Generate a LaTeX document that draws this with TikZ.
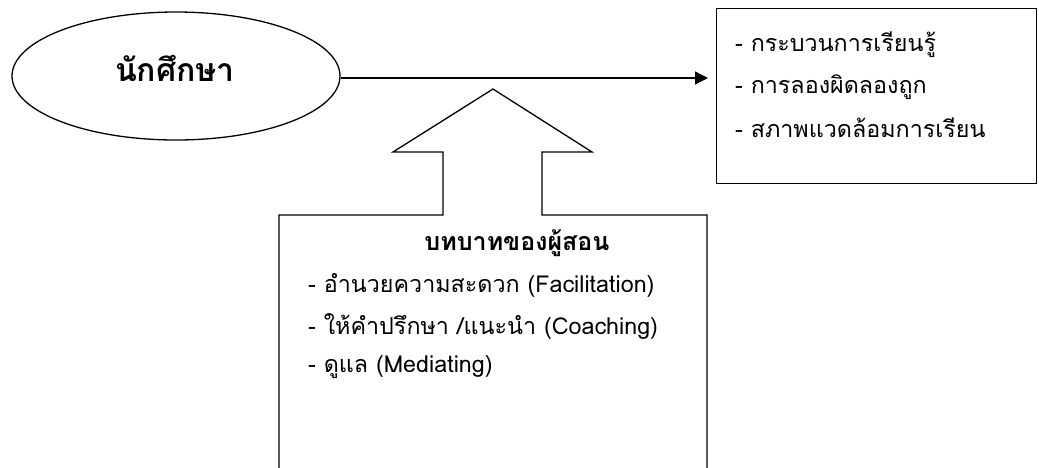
\documentclass[tikz,border=0pt]{standalone}
\usepackage{fontspec}
\setmainfont[Script=Thai]{Loma}
\usetikzlibrary{shapes.geometric,arrows.meta}
\tikzset{
  line/.style={draw=black, line width=1.3pt},
  txt/.style={font=\fontsize{23.3}{26}\selectfont, anchor=west, inner sep=0pt},
}
\begin{document}
\begin{tikzpicture}[x=1pt,y=-1pt]
\useasboundingbox (0,0) rectangle (1039,467);
% student ellipse
\node[ellipse, line, minimum width=328pt, minimum height=128pt, inner sep=0pt] (stud) at (176,76) {};
\node[font=\bfseries\fontsize{32}{36}\selectfont, inner sep=0pt] (studt) at (175,68) {นักศึกษา};
% right box
\node[line, minimum width=320pt, minimum height=175pt, inner sep=0pt, anchor=north west] (rbox) at (716,8) {};
\node[txt] (r1) at (735,45) {- กระบวนการเรียนรู้};
\node[txt] (r2) at (735,87) {- การลองผิดลองถูก};
\node[txt] (r3) at (735,128) {- สภาพแวดล้อมการเรียน};
% main arrow
\coordinate (aend) at (rbox.west |- 0,78);
\coordinate (astart) at (stud.east |- 0,78);
\draw[line, -{Triangle[length=13pt,width=13pt]}] (astart) -- ([xshift=-8pt]aend);
% up arrow + lower box outline
\coordinate (tip) at (493,89);
\coordinate (hl) at (393,152);
\coordinate (hr) at (592,152);
\coordinate (sl) at (443,152);
\coordinate (sr) at (542,152);
\coordinate (bl) at (443,215);
\coordinate (br) at (542,215);
\coordinate (boxtl) at (279,215);
\coordinate (boxtr) at (707,215);
\coordinate (boxbl) at (279,470);
\coordinate (boxbr) at (707,470);
\draw[line, line join=miter] (boxbl) -- (boxtl) -- (bl) -- (sl) -- (hl) -- (tip) -- (hr) -- (sr) -- (br) -- (boxtr) -- (boxbr);
% lower box text
\node[font=\bfseries\fontsize{25}{28}\selectfont, inner sep=0pt] (lh) at (517,243) {บทบาทของผู้สอน};
\node[txt] (l1) at (308,285) {- อำนวยความสะดวก (Facilitation)};
\node[txt] (l2) at (308,326) {- ให้คำปรึกษา /แนะนำ (Coaching)};
\node[txt] (l3) at (308,367) {- ดูแล (Mediating)};
\end{tikzpicture}
\end{document}
